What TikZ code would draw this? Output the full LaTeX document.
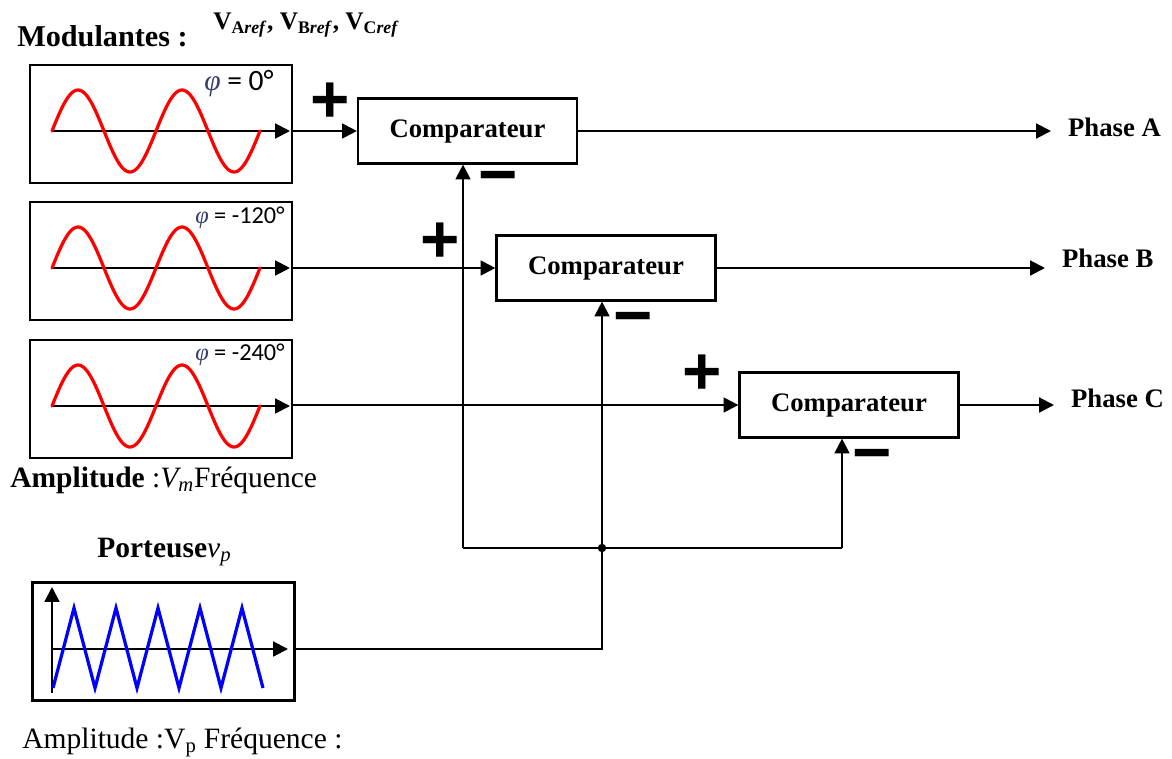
\documentclass[tikz,border=0pt]{standalone}
\usepackage{fontspec}
\setmainfont{Liberation Serif}
\newfontfamily\phifont{Carlito}
\newfontfamily\signfont{Liberation Sans}
\usetikzlibrary{arrows.meta}
\definecolor{phiblue}{RGB}{55,60,110}
\newcommand{\phisym}{\textcolor{phiblue}{\rmfamily\itshape φ}}

\begin{document}
\begin{tikzpicture}[
    x=0.025cm, y=-0.025cm,
    wavebox/.style={draw,line width=1.6pt,minimum width=6.55cm,minimum height=2.95cm,inner sep=0},
    cmp/.style={draw,line width=1.5pt,minimum width=5.475cm,minimum height=1.625cm,
                font=\fontsize{19}{22}\selectfont\bfseries},
    sig/.style={-{Triangle[length=10.5pt,width=10.5pt]},line width=1.5pt},
    wire/.style={line width=1.5pt},
    sine/.style={red,line width=2.3pt,line cap=round},
    tooth/.style={blue,line width=2.3pt},
    lbl/.style={inner sep=0,anchor=base west},
    philbl/.style={lbl,font=\phifont\fontsize{17.3}{19}\selectfont},
    sign/.style={inner sep=0,font=\signfont\bfseries\fontsize{48}{48}\selectfont},
    phase/.style={anchor=west,inner xsep=12pt,inner ysep=0,font=\fontsize{19}{22}\selectfont\bfseries}
]
  \useasboundingbox (0,0) rectangle (1172,758);

  % titles and captions
  \node[lbl,font=\fontsize{21.5}{24}\selectfont\bfseries] (modTitle) at (17,46) {Modulantes :};
  \node[lbl,font=\fontsize{18}{20}\selectfont\bfseries] (refs) at (213,29)
       {V\textsubscript{A\textit{ref}}, V\textsubscript{B\textit{ref}}, V\textsubscript{C\textit{ref}}};
  \node[lbl,font=\fontsize{21}{24}\selectfont] (modAmp) at (10,487)
       {\textbf{Amplitude} :\textit{V\textsubscript{m}}Fréquence};
  \node[lbl,font=\fontsize{21}{24}\selectfont] (carTitle) at (97,557)
       {\textbf{Porteuse}\textit{v\textsubscript{p}}};
  \node[lbl,font=\fontsize{21}{24}\selectfont] (carAmp) at (22,748)
       {Amplitude :V\textsubscript{p} Fréquence :};

  % modulating signals
  \node[wavebox] (modA) at (161,124) {};
  \node[wavebox] (modB) at (161,261) {};
  \node[wavebox] (modC) at (161,399) {};
  \foreach \yy in {131,268,406}{
    \draw[sig] (52,\yy) -- (290,\yy);
    \draw[sine] plot[domain=0:720,samples=120,variable=\t] ({52+\t*0.28889},{\yy-41*sin(\t)});
  }
  \node[philbl,font=\phifont\fontsize{21}{23}\selectfont] (phiA) at (204,90) {\phisym{} = 0°};
  \node[philbl] (phiB) at (195,223) {\phisym{} = -120°};
  \node[philbl] (phiC) at (195,360) {\phisym{} = -240°};

  % carrier
  \node[wavebox] (carrier) at (163.5,641.5) {};
  \draw[sig] (52,693) -- (52,587);
  \draw[sig] (52,649) -- (288,649);
  \draw[tooth] (53,688) \foreach \k in {0,...,4}{ -- ({74+42*\k},608) -- ({95+42*\k},688)};

  % comparators
  \node[cmp] (cmpA) at (467.5,131) {Comparateur};
  \node[cmp] (cmpB) at (606,268) {Comparateur};
  \node[cmp] (cmpC) at (849,405) {Comparateur};

  \coordinate (outA) at (292,131);
  \coordinate (outB) at (292,268);
  \coordinate (outC) at (292,405);
  \draw[sig] (outA) -- (cmpA);
  \draw[sig] (outB) -- (cmpB);
  \draw[sig] (outC) -- (cmpC);

  \coordinate (pout) at (295,649);
  \coordinate (tapA) at (463,548);
  \coordinate (tapB) at (602,548);
  \coordinate (tapC) at (842,548);
  \draw[wire] (pout) -| (tapB);
  \draw[wire] (tapA) -- (tapC);
  \draw[sig] (tapA) -- (tapA |- cmpA.south);
  \draw[sig] (tapB) -- (tapB |- cmpB.south);
  \draw[sig] (tapC) -- (tapC |- cmpC.south);
  \fill (tapB) circle (3pt);

  % signs
  \node[sign] (plusA) at (330,103) {+};
  \node[sign] (minusA) at (498,184) {−};
  \node[sign] (plusB) at (440,243) {+};
  \node[sign] (minusB) at (633,325) {−};
  \node[sign] (plusC) at (702,375) {+};
  \node[sign] (minusC) at (872,462) {−};

  % outputs
  \node[phase] (phA) at (1051,127) {Phase A};
  \node[phase] (phB) at (1045,258) {Phase B};
  \node[phase] (phC) at (1054,398) {Phase C};
  \draw[sig] (cmpA.east) -- (cmpA.east -| phA.west);
  \draw[sig] (cmpB.east) -- (cmpB.east -| phB.west);
  \draw[sig] (cmpC.east) -- (cmpC.east -| phC.west);
\end{tikzpicture}
\end{document}
